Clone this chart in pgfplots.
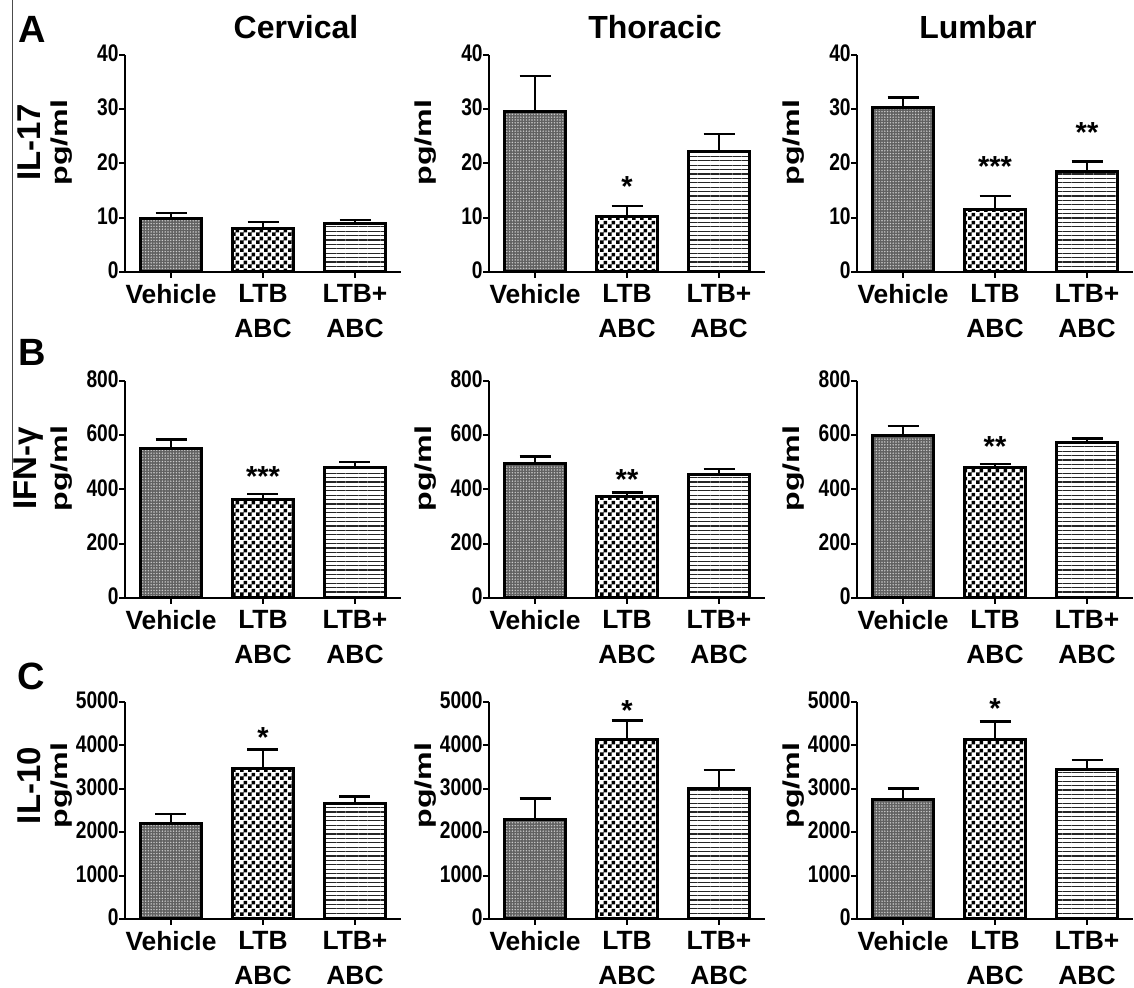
\documentclass[border=0pt]{standalone}
\usepackage{pgfplots}
\pgfplotsset{compat=1.18}
\usepackage{fontspec}
\setmainfont{Liberation Sans}
\newfontfamily\narrowfont[FakeStretch=0.8]{Liberation Sans}
\usetikzlibrary{patterns,patterns.meta}

\pgfdeclarepatternformonly{finecheck}{\pgfqpoint{0pt}{0pt}}{\pgfqpoint{4pt}{4pt}}{\pgfqpoint{4pt}{4pt}}{%
  \pgfpathrectangle{\pgfpointorigin}{\pgfqpoint{2pt}{2pt}}%
  \pgfpathrectangle{\pgfqpoint{2pt}{2pt}}{\pgfqpoint{2pt}{2pt}}%
  \pgfusepath{fill}}

\newcommand\yfont{\narrowfont\bfseries\fontsize{12pt}{12pt}\selectfont}
\newcommand\xfont{\bfseries\fontsize{13.2pt}{17.5pt}\selectfont}
\newcommand\labfont{\bfseries\fontsize{11.5pt}{12pt}\selectfont}
\newcommand\rowfont{\bfseries\fontsize{16.5pt}{17pt}\selectfont}
\newcommand\titfont{\bfseries\fontsize{16pt}{17pt}\selectfont}
\newcommand\starfont{\bfseries\fontsize{14.5pt}{14pt}\selectfont}

\pgfplotsset{
  panel/.style={
    scale only axis, width=138pt, height=108.5pt,
    anchor=south west,
    axis lines*=left,
    axis line style={line width=1pt, black},
    xmin=-0.5, xmax=2.5, ymin=0,
    xtick={0,1,2},
    xticklabels={Vehicle,{LTB\\ABC},{LTB+\\ABC}},
    xticklabel style={font=\xfont, align=center, anchor=north, inner sep=0pt, yshift=-3pt},
    yticklabel style={font=\yfont, anchor=east, inner sep=0pt, yshift=0.8pt},
    tick align=outside, major tick length=3pt,
    tick style={line width=1pt, black},
    ybar, bar width=30.5pt,
    clip=false,
    scaled y ticks=false,
    /pgf/number format/1000 sep={},
    /pgf/number format/assume math mode=true,
    ylabel={\scalebox{1.4}[1]{pg/ml}},
    ylabel style={font=\labfont, at={(axis description cs:-0.228,0.597)}, anchor=center},
  },
  vehbar/.style={bar shift=0pt, draw=black, line width=1.5pt, fill=black!62,
    postaction={pattern={Dots[distance=1.4pt,radius=0.4pt]}, pattern color=white!80!black}},
  ltbbar/.style={bar shift=0pt, draw=black, line width=1.5pt, fill=white,
    postaction={pattern=finecheck, pattern color=black}},
  ltbpbar/.style={bar shift=0pt, draw=black, line width=1.5pt, fill=white,
    postaction={pattern={Lines[angle=0,distance=2.2pt,line width=0.6pt]}, pattern color=black!85}},
  eb/.style={error bars/.cd, y dir=plus, y explicit,
    error bar style={line width=1.3pt, black, solid},
    error mark options={rotate=90, mark size=7.75pt, line width=1.3pt, black}},
  r1/.style={ymax=40, ytick={0,10,20,30,40}},
  r2/.style={ymax=800, ytick={0,200,400,600,800}},
  r3/.style={ymax=5000, ytick={0,1000,2000,3000,4000,5000},
    ylabel style={at={(axis description cs:-0.228,0.615)}}},
}

\newcommand\threebars[6]{%
  \addplot[vehbar, eb] coordinates {(0,#1) +- (0,#2)};
  \addplot[ltbbar, eb] coordinates {(1,#3) +- (0,#4)};
  \addplot[ltbpbar, eb] coordinates {(2,#5) +- (0,#6)};
}
\newcommand\sig[3]{\node[font=\starfont, yshift=-2.9pt, inner sep=0pt] at (axis cs:#1,#2) {#3};}

\begin{document}
\begin{tikzpicture}
\useasboundingbox (0,0) rectangle (567pt,494pt);
\draw[line width=0.5pt, black!70] (6pt,494pt) -- (6pt,259pt);

% titles
\node[font=\titfont, anchor=base] at (148pt,474.5pt) {Cervical};
\node[font=\titfont, anchor=base] at (327.5pt,474.5pt) {Thoracic};
\node[font=\titfont, anchor=base] at (489pt,474.5pt) {Lumbar};
\node[font=\bfseries\fontsize{19pt}{19pt}\selectfont, anchor=base west, inner sep=0pt] at (9pt,472.5pt) {A};
\node[font=\bfseries\fontsize{19pt}{19pt}\selectfont, anchor=base west, inner sep=0pt] at (9pt,311pt) {B};
\node[font=\bfseries\fontsize{19pt}{19pt}\selectfont, anchor=base west, inner sep=0pt] at (8.5pt,149pt) {C};

% ---------- Row 1: IL-17 ----------
\begin{axis}[panel, r1, at={(62.5pt,358pt)}]
  \threebars{9.9}{1.0}{8.1}{1.1}{9.0}{0.6}
  \node[font=\rowfont, rotate=90] at (axis description cs:-0.348,0.597) {IL-17};
\end{axis}
\begin{axis}[panel, r1, at={(244.5pt,358pt)}]
  \threebars{29.6}{6.5}{10.3}{1.9}{22.3}{3.1}
  \sig{1}{16.9}{*}
\end{axis}
\begin{axis}[panel, r1, at={(428.5pt,358pt)}]
  \threebars{30.4}{1.8}{11.6}{2.4}{18.5}{1.9}
  \sig{1}{20.6}{***}
  \sig{2}{26.7}{**}
\end{axis}

% ---------- Row 2: IFN-gamma ----------
\begin{axis}[panel, r2, at={(62.5pt,195pt)}]
  \threebars{551}{34}{363}{21}{482}{20}
  \sig{1}{470}{***}
  \node[font=\rowfont, rotate=90] at (axis description cs:-0.348,0.597) {IFN-γ};
\end{axis}
\begin{axis}[panel, r2, at={(244.5pt,195pt)}]
  \threebars{496}{26}{375}{15}{457}{19}
  \sig{1}{459}{**}
\end{axis}
\begin{axis}[panel, r2, at={(428.5pt,195pt)}]
  \threebars{598}{36}{481}{13}{573}{16}
  \sig{1}{580}{**}
\end{axis}

% ---------- Row 3: IL-10 ----------
\begin{axis}[panel, r3, at={(62.5pt,34.5pt)}]
  \threebars{2206}{217}{3462}{438}{2668}{161}
  \sig{1}{4306}{*}
  \node[font=\rowfont, rotate=90] at (axis description cs:-0.348,0.615) {IL-10};
\end{axis}
\begin{axis}[panel, r3, at={(244.5pt,34.5pt)}]
  \threebars{2297}{485}{4129}{446}{3013}{423}
  \sig{1}{4928}{*}
\end{axis}
\begin{axis}[panel, r3, at={(428.5pt,34.5pt)}]
  \threebars{2750}{262}{4145}{407}{3436}{231}
  \sig{1}{4974}{*}
\end{axis}
\end{tikzpicture}
\end{document}
